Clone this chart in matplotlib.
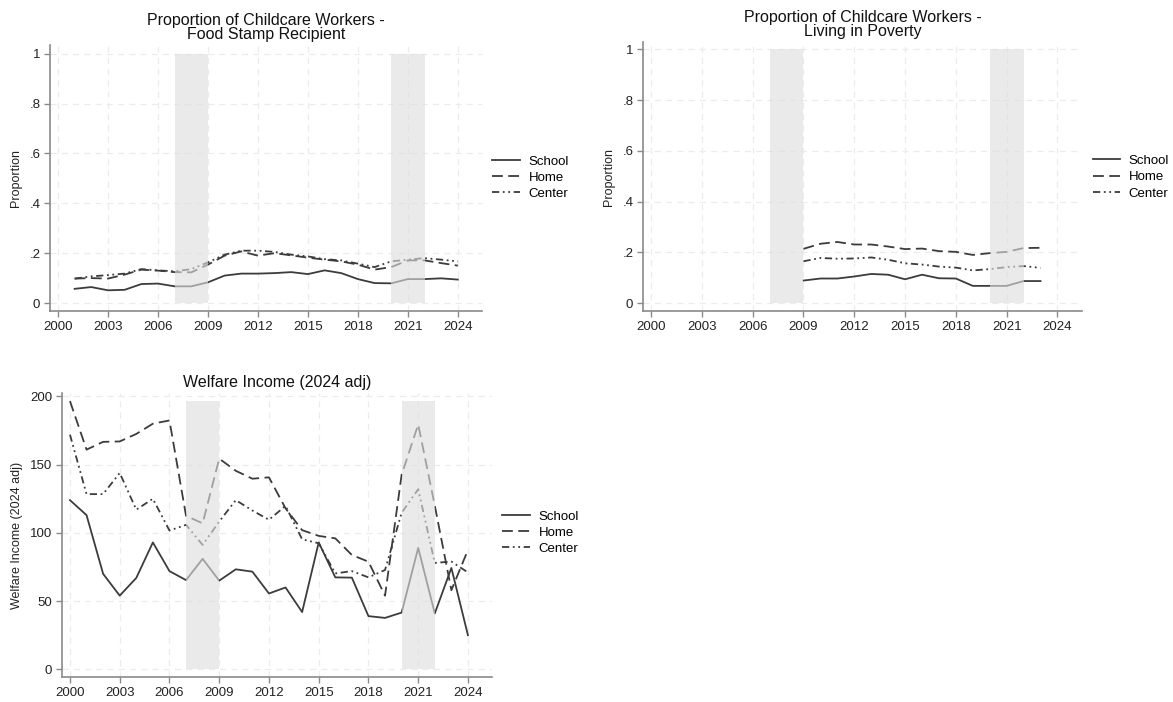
import matplotlib.pyplot as plt
import numpy as np

plt.rcParams['font.family'] = ['Liberation Sans', 'DejaVu Sans']

years = np.arange(2000, 2025)

# Food stamp recipients (2001-2024)
fs_years = np.arange(2001, 2025)
fs_school = [0.057, 0.064, 0.051, 0.053, 0.076, 0.078, 0.067, 0.067, 0.083, 0.110, 0.118, 0.118,
             0.120, 0.124, 0.116, 0.131, 0.120, 0.096, 0.080, 0.079, 0.096, 0.096, 0.099, 0.094]
fs_home = [0.098, 0.100, 0.098, 0.114, 0.134, 0.130, 0.124, 0.123, 0.154, 0.190, 0.207, 0.190,
           0.200, 0.191, 0.182, 0.174, 0.167, 0.154, 0.134, 0.144, 0.171, 0.171, 0.160, 0.150]
fs_center = [0.098, 0.107, 0.112, 0.118, 0.136, 0.131, 0.127, 0.136, 0.163, 0.194, 0.210, 0.210,
             0.205, 0.194, 0.187, 0.176, 0.171, 0.158, 0.144, 0.167, 0.174, 0.180, 0.174, 0.167]

# Living in poverty (2009-2023)
pov_years = np.arange(2009, 2024)
pov_school = [0.089, 0.097, 0.097, 0.105, 0.115, 0.112, 0.094, 0.112, 0.098, 0.097, 0.068,
              0.068, 0.068, 0.087, 0.087]
pov_home = [0.214, 0.234, 0.241, 0.231, 0.231, 0.223, 0.213, 0.215, 0.205, 0.202, 0.190,
            0.197, 0.202, 0.217, 0.218]
pov_center = [0.165, 0.178, 0.175, 0.176, 0.180, 0.171, 0.157, 0.152, 0.144, 0.140, 0.129,
              0.134, 0.142, 0.146, 0.139]

# Welfare income (2000-2024)
wi_school = [124, 113, 70, 54, 67, 93, 72, 65.4, 81, 65, 73.3, 71.6, 55.6, 60, 42, 93,
             67.4, 67.2, 39, 37.7, 41.6, 89, 41, 74.3, 25]
wi_home = [196.6, 161, 166.7, 167, 172.5, 180, 182.4, 112.5, 107, 154.4, 145.5, 139.7, 140.7,
           118, 102, 97.8, 96, 83.8, 78.9, 54, 142.6, 179.4, 120, 58, 87.5]
wi_center = [172, 128.4, 128.4, 143.9, 117, 125, 101.7, 105.9, 91.2, 108.3, 124, 116.4, 109.6,
             119.8, 95.3, 92.4, 70.3, 72, 67.4, 72.8, 114.7, 132, 78, 79, 71]

recessions = [(2007, 2009), (2020, 2022)]
labels = ["School", "Home", "Center"]

W, H = 1173, 702
fig = plt.figure(figsize=(W / 100, H / 100), dpi=100)

line_col = '#3c3c3c'
styles = [dict(linestyle='-'),
          dict(linestyle=(0, (6, 3))),
          dict(linestyle=(0, (4, 2, 1, 2, 1, 2)))]


def make_ax(x0, x1, y0, y1):
    # pixel box -> figure fraction
    return fig.add_axes([x0 / W, 1 - y1 / H, (x1 - x0) / W, (y1 - y0) / H])


def draw(ax, xs, series, shade_top, title, ylabel, ylim, yticks, yticklabels, leg_pos):
    for s, st in zip(series, styles):
        ax.plot(xs, s, color=line_col, lw=1.3, zorder=2, **st)
    for a, b in recessions:
        ax.fill_between([a, b], 0, shade_top, color='#dedede', alpha=0.62, lw=0, zorder=3)
    ax.set_xlim(1999.52, 2025.45)
    ax.set_ylim(*ylim)
    ax.set_xticks(np.arange(2000, 2025, 3))
    ax.set_yticks(yticks)
    ax.set_yticklabels(yticklabels)
    ax.grid(True, linestyle=(0, (5, 4)), color='#ececec', lw=0.9, zorder=0)
    ax.set_axisbelow(True)
    for sp in ['top', 'right']:
        ax.spines[sp].set_visible(False)
    for sp in ['left', 'bottom']:
        ax.spines[sp].set_color('#8a8a8a')
        ax.spines[sp].set_linewidth(1.2)
    ax.tick_params(colors='#8a8a8a', labelcolor='#222222', labelsize=9.5, length=4, width=1, pad=3)
    ax.set_ylabel(ylabel, fontsize=9, color='#222222', labelpad=5)
    ax.set_title(title, fontsize=11.5, color='#111111', pad=4, linespacing=0.95)
    ax.legend(ax.lines[:3], labels, loc='upper left', bbox_to_anchor=leg_pos, frameon=False,
              fontsize=9.5, handlelength=2.1, handletextpad=0.65, labelspacing=0.3,
              borderaxespad=0)


ax1 = make_ax(50, 482, 45, 311)
draw(ax1, fs_years, [fs_school, fs_home, fs_center], 1,
     "Proportion of Childcare Workers -\nFood Stamp Recipient", "Proportion",
     (-0.032, 1.035), [0, .2, .4, .6, .8, 1], ["0", ".2", ".4", ".6", ".8", "1"],
     (1.012, 0.605))

ax2 = make_ax(643, 1082, 42, 311)
draw(ax2, pov_years, [pov_school, pov_home, pov_center], 1,
     "Proportion of Childcare Workers -\nLiving in Poverty", "Proportion",
     (-0.031, 1.029), [0, .2, .4, .6, .8, 1], ["0", ".2", ".4", ".6", ".8", "1"],
     (1.012, 0.6))

ax3 = make_ax(62, 492, 393, 677)
draw(ax3, years, [wi_school, wi_home, wi_center], max(wi_home),
     "Welfare Income (2024 adj)", "Welfare Income (2024 adj)",
     (-5.6, 202.5), [0, 50, 100, 150, 200], ["0", "50", "100", "150", "200"],
     (1.012, 0.605))

fig.savefig("out.png", dpi=100)
